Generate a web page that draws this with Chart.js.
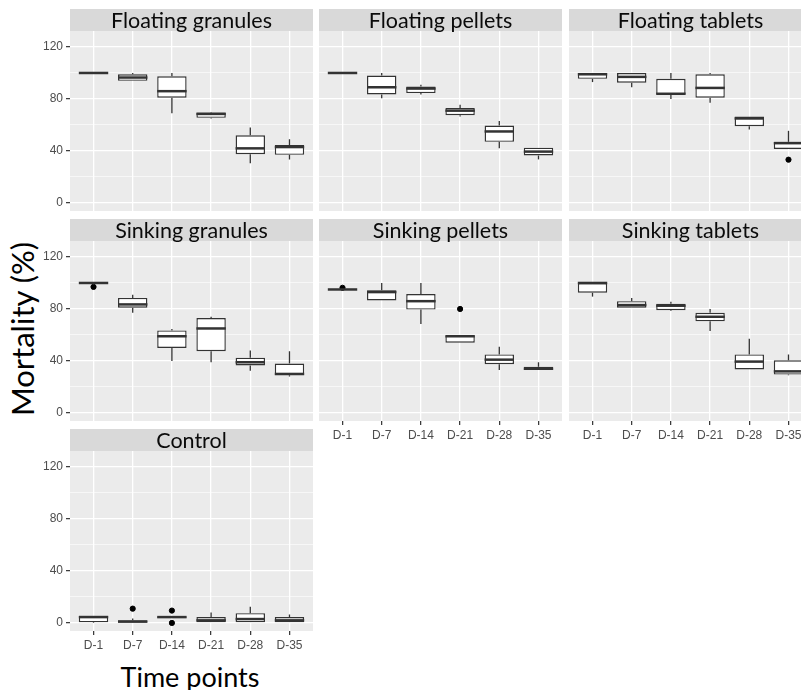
<!DOCTYPE html>
<html>
<head>
<meta charset="utf-8">
<script src="https://cdn.jsdelivr.net/npm/chart.js@4.4.1/dist/chart.umd.min.js"></script>
<style>
  html, body { margin: 0; padding: 0; background: #ffffff; overflow: hidden; width: 801px; height: 690px; }
  .panel { position: absolute; }
  .axis-title { position: absolute; font-family: Lato, "Open Sans", sans-serif; color: #000; white-space: nowrap; }
</style>
</head>
<body>
<div class="axis-title" id="ytitle" style="left:22px; top:329px; font-size:31px; transform: translate(-50%,-50%) rotate(-90deg);">Mortality (%)</div>
<div class="axis-title" id="xtitle" style="left:190px; top:676px; font-size:27px; transform: translate(-50%,-50%);">Time points</div>
<script>
// ---- Data ----
const categories = ['D-1', 'D-7', 'D-14', 'D-21', 'D-28', 'D-35'];
const yTicks = [0, 40, 80, 120];
const panelTitles = ['Floating granules', 'Floating pellets', 'Floating tablets',
                     'Sinking granules', 'Sinking pellets', 'Sinking tablets', 'Control'];

// each entry: [min, q1, median, q3, max]
const floatingGranules = [[100,100,100,100,100],[94,94,96.5,99,100],[69,81,86,97.5,100],[65,65.5,68.5,69.5,70],[30.5,37.5,42,52,58],[33.5,37,43,44.5,49]];
const floatingPellets  = [[100,100,100,100,100],[80.5,83.5,89,98,100],[83.5,84.5,88,89.5,91],[66.5,67.5,71,73,75.5],[42,47,55,59.5,63],[33.5,36.5,39.5,42.5,42.5]];
const floatingTablets  = [[93,95.5,99,100,100],[89,92.5,97,100,100],[80,83.5,84,95.5,100],[77,81,88.5,99,100],[56.5,59,65,66.5,66.5],[41.5,41.5,46,47,55.5]];
const sinkingGranules  = [[100,100,100,100,100],[77,81,83.5,88.5,91],[40,50,59,63.5,64.5],[39,47.5,65,73,74],[32.5,36.5,39,42.5,48],[28,29,30,38,47.5]];
const sinkingPellets   = [[95,95,95,95,95],[86.5,86.5,93,94.5,100],[68.5,79.5,86,91.5,100],[54,54,59,59.5,59.5],[33,37.5,41,45,51],[33,33,34,35.5,39]];
const sinkingTablets   = [[89.5,92.5,100,100,100],[81,81,83,86,88.5],[78.5,79,82.5,84,85.5],[63,70.5,74,77,80],[33.5,33.5,39.5,45,57],[29,29.5,32,40.5,45]];
const control          = [[0,0.5,4.5,5.5,5.5],[0,0,1,2,3.5],[4,4,4.5,5,5],[0,0,2,4.5,8],[0,0,3,7.5,12.5],[0,0,2,4.5,6.5]];

// outliers: [categoryIndex, value]
const floatingGranulesOut = [];
const floatingPelletsOut  = [];
const floatingTabletsOut  = [[5, 33.3]];
const sinkingGranulesOut  = [[0, 97]];
const sinkingPelletsOut   = [[0, 96.3], [3, 80]];
const sinkingTabletsOut   = [];
const controlOut          = [[1, 11], [2, 9.5], [2, 0]];

// ---- Layout ----
const colLeft = [70, 319, 569];
const rowStripTop = [9, 219, 429];
const PW = 243, PH = 180, STRIP = 22, YAX = 40, XAX = 25;
const Y_MIN = -6.2, Y_MAX = 132.3;

const panelsSpec = [
  { data: floatingGranules, out: floatingGranulesOut, row: 0, col: 0, ylab: true,  xlab: false },
  { data: floatingPellets,  out: floatingPelletsOut,  row: 0, col: 1, ylab: false, xlab: false },
  { data: floatingTablets,  out: floatingTabletsOut,  row: 0, col: 2, ylab: false, xlab: false },
  { data: sinkingGranules,  out: sinkingGranulesOut,  row: 1, col: 0, ylab: true,  xlab: false },
  { data: sinkingPellets,   out: sinkingPelletsOut,   row: 1, col: 1, ylab: false, xlab: true },
  { data: sinkingTablets,   out: sinkingTabletsOut,   row: 1, col: 2, ylab: false, xlab: true },
  { data: control,          out: controlOut,          row: 2, col: 0, ylab: true,  xlab: true },
];

const panelBg = {
  id: 'panelBg',
  beforeDraw(chart, args, opts) {
    const { ctx, chartArea: a } = chart;
    ctx.save();
    ctx.fillStyle = '#EBEBEB';
    ctx.fillRect(a.left, a.top, a.right - a.left, a.bottom - a.top);
    ctx.fillStyle = '#D9D9D9';
    ctx.fillRect(a.left, a.top - STRIP, a.right - a.left, STRIP);
    ctx.fillStyle = '#0a0a0a';
    ctx.font = '21.5px Lato, "Open Sans", sans-serif';
    ctx.textAlign = 'center';
    ctx.textBaseline = 'middle';
    ctx.fillText(opts.title, (a.left + a.right) / 2, a.top - STRIP / 2 + 1);
    ctx.restore();
  }
};

const boxExtras = {
  id: 'boxExtras',
  afterDatasetsDraw(chart, args, opts) {
    const { ctx } = chart;
    const xs = chart.scales.x, ys = chart.scales.y;
    const hw = 0.375 * (xs.getPixelForValue(1) - xs.getPixelForValue(0));
    ctx.save();
    ctx.strokeStyle = '#333333';
    opts.stats.forEach((s, i) => {
      const x = xs.getPixelForValue(i);
      const [mn, q1, md, q3, mx] = s;
      ctx.lineWidth = 1.3;
      ctx.beginPath();
      if (mx > q3) { ctx.moveTo(x, ys.getPixelForValue(q3)); ctx.lineTo(x, ys.getPixelForValue(mx)); }
      if (mn < q1) { ctx.moveTo(x, ys.getPixelForValue(q1)); ctx.lineTo(x, ys.getPixelForValue(mn)); }
      ctx.stroke();
      ctx.lineWidth = 2.5;
      ctx.beginPath();
      const ym = ys.getPixelForValue(md);
      ctx.moveTo(x - hw, ym); ctx.lineTo(x + hw, ym);
      ctx.stroke();
    });
    ctx.restore();
  }
};

panelsSpec.forEach((p, k) => {
  const left = colLeft[p.col] - (p.ylab ? YAX : 0);
  const top = rowStripTop[p.row];
  const w = PW + (p.ylab ? YAX : 0);
  const h = STRIP + PH + (p.xlab ? XAX : 0);
  const div = document.createElement('div');
  div.className = 'panel';
  div.style.left = left + 'px';
  div.style.top = top + 'px';
  div.style.width = w + 'px';
  div.style.height = h + 'px';
  const cv = document.createElement('canvas');
  cv.width = w; cv.height = h;
  cv.style.width = w + 'px'; cv.style.height = h + 'px';
  div.appendChild(cv);
  document.body.appendChild(div);

  new Chart(cv.getContext('2d'), {
    data: {
      datasets: [
        {
          type: 'bar',
          data: p.data.map((s, i) => ({ x: i, y: [s[1], s[3]] })),
          backgroundColor: '#FFFFFF',
          borderColor: '#333333',
          borderWidth: 1.4,
          borderSkipped: false,
          barPercentage: 0.75,
          categoryPercentage: 1.0,
          order: 2
        },
        {
          type: 'scatter',
          data: p.out.map(o => ({ x: o[0], y: o[1] })),
          backgroundColor: '#000000',
          borderColor: '#000000',
          pointRadius: 2.6,
          pointHoverRadius: 2.6,
          order: 1
        }
      ]
    },
    options: {
      responsive: false,
      animation: false,
      devicePixelRatio: 1,
      events: [],
      layout: { autoPadding: false, padding: { top: STRIP, left: 0, right: 0, bottom: 0 } },
      plugins: {
        legend: { display: false },
        tooltip: { enabled: false },
        title: { display: false },
        panelBg: { title: panelTitles[k] },
        boxExtras: { stats: p.data }
      },
      scales: {
        x: {
          type: 'linear',
          min: -0.6, max: 5.6,
          offset: false,
          border: { display: false },
          afterBuildTicks: (sc) => { sc.ticks = categories.map((c, i) => ({ value: i })); },
          afterFit: (sc) => { sc.height = p.xlab ? XAX : 0; sc.paddingLeft = 0; sc.paddingRight = 0; },
          grid: {
            offset: false,
            color: '#FFFFFF', lineWidth: 1.3,
            drawTicks: p.xlab, tickLength: 4, tickColor: '#333333', tickWidth: 1.2
          },
          ticks: {
            display: p.xlab,
            autoSkip: false, maxRotation: 0, padding: 3,
            color: '#4D4D4D',
            font: { family: '"Liberation Sans", Arial, sans-serif', size: 12 },
            callback: (v) => categories[v]
          }
        },
        y: {
          type: 'linear',
          min: Y_MIN, max: Y_MAX,
          border: { display: false },
          afterBuildTicks: (sc) => { sc.ticks = [0, 20, 40, 60, 80, 100, 120].map(v => ({ value: v })); },
          afterFit: (sc) => { sc.width = p.ylab ? YAX : 0; sc.paddingTop = 0; sc.paddingBottom = 0; },
          grid: {
            color: '#FFFFFF',
            lineWidth: (c) => (c.tick && yTicks.includes(c.tick.value)) ? 1.3 : 0.6,
            drawTicks: p.ylab, tickLength: 4, tickWidth: 1.2,
            tickColor: (c) => (c.tick && yTicks.includes(c.tick.value)) ? '#333333' : 'rgba(0,0,0,0)'
          },
          ticks: {
            display: p.ylab,
            autoSkip: false, padding: 3,
            color: '#4D4D4D',
            font: { family: '"Liberation Sans", Arial, sans-serif', size: 12 },
            callback: (v) => yTicks.includes(v) ? String(v) : ''
          }
        }
      }
    },
    plugins: [panelBg, boxExtras]
  });
});
</script>
</body>
</html>
